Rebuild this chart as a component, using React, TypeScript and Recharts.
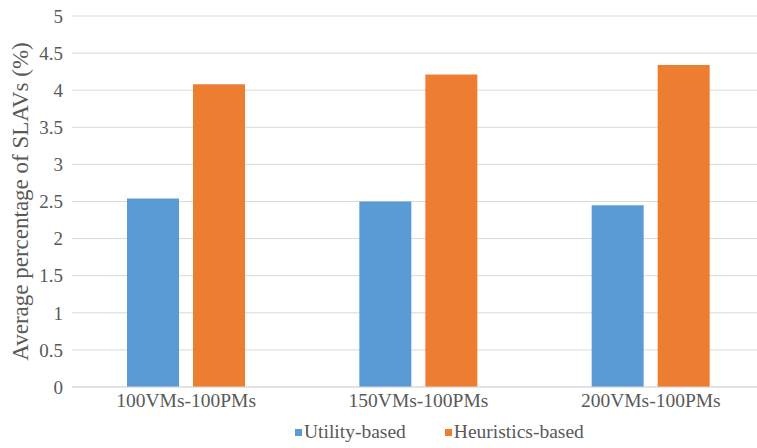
import React from "react";
import {
  BarChart,
  Bar,
  XAxis,
  YAxis,
  CartesianGrid,
  Legend,
} from "recharts";

// categories and series
const categories = ["100VMs-100PMs", "150VMs-100PMs", "200VMs-100PMs"];
const utilityBased = [2.54, 2.5, 2.45];
const heuristicsBased = [4.08, 4.21, 4.34];
const yTicks = [0, 0.5, 1, 1.5, 2, 2.5, 3, 3.5, 4, 4.5, 5];

const FONT = "Liberation Serif";
const TEXT = "#595959";
const GRID = "#d9d9d9";
const BLUE = "#5b9bd5";
const ORANGE = "#ed7d31";

const data = categories.map((name, i) => ({
  name,
  utility: utilityBased[i],
  heuristics: heuristicsBased[i],
}));

// the source figure is cropped on the right, so the chart is a bit wider than the frame
function LegendBox() {
  const items = [
    { label: "Utility-based", color: BLUE },
    { label: "Heuristics-based", color: ORANGE },
  ];
  return (
    <div
      style={{
        display: "flex",
        alignItems: "flex-start",
        height: 27,
        paddingLeft: 295,
        fontFamily: FONT,
        fontSize: 19.5,
        lineHeight: "22px",
        color: TEXT,
      }}
    >
      {items.map((it) => (
        <span key={it.label} style={{ display: "flex", alignItems: "center", marginRight: 39 }}>
          <span style={{ width: 7, height: 7, background: it.color, marginRight: 2 }} />
          {it.label}
        </span>
      ))}
    </div>
  );
}

function YLabel() {
  return (
    <text
      x={0}
      y={0}
      transform="translate(28, 201.5) rotate(-90)"
      textAnchor="middle"
      fill={TEXT}
      style={{ fontFamily: FONT, fontSize: 23 }}
    >
      Average percentage of SLAVs (%)
    </text>
  );
}

export default function App() {
  return (
    <div style={{ width: 757, height: 448, overflow: "hidden", background: "#fff" }}>
      <style>{`body{margin:0}`}</style>
      <BarChart
        width={767}
        height={448}
        data={data}
        margin={{ top: 16, right: 0, bottom: 0, left: 0 }}
        barSize={52}
        barGap={14}
      >
        <CartesianGrid vertical={false} stroke={GRID} strokeWidth={1} />
        <XAxis
          dataKey="name"
          padding={{ left: -2, right: 0 }}
          axisLine={{ stroke: GRID }}
          tickLine={false}
          tickSize={0}
          tickMargin={6}
          height={34}
          tick={{ fill: TEXT, fontFamily: FONT, fontSize: 19.5 }}
          interval={0}
        />
        <YAxis
          domain={[0, 5]}
          ticks={yTicks}
          width={72}
          axisLine={false}
          tickLine={false}
          tickSize={0}
          tickMargin={9}
          tick={{ fill: TEXT, fontFamily: FONT, fontSize: 19 }}
          label={{ content: () => <YLabel /> }}
        />
        <Legend verticalAlign="bottom" content={() => <LegendBox />} />
        <Bar dataKey="utility" name="Utility-based" fill={BLUE} isAnimationActive={false} />
        <Bar dataKey="heuristics" name="Heuristics-based" fill={ORANGE} isAnimationActive={false} />
      </BarChart>
    </div>
  );
}
